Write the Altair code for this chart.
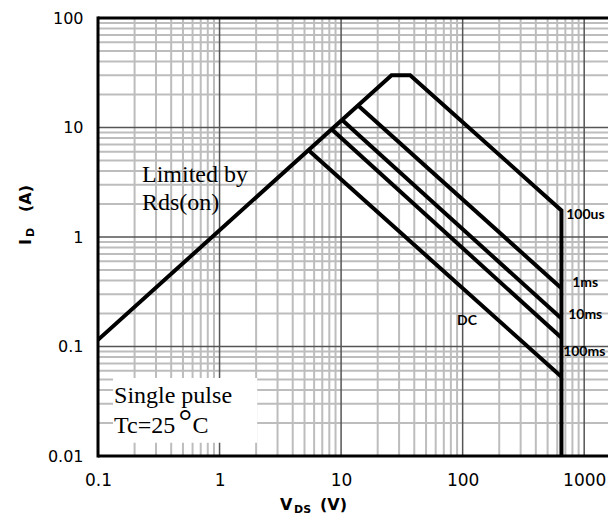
import altair as alt
import pandas as pd

# ---- data ----
env_v = [0.1, 26, 37, 650, 650]
env_i = [0.115, 30, 30, 1.75, 0.01]

ms1_v = [13.8, 650]
ms1_i = [15.9, 0.34]
ms10_v = [10.2, 650]
ms10_i = [11.7, 0.18]
ms100_v = [8.4, 650]
ms100_i = [9.6, 0.12]
dc_v = [5.4, 650]
dc_i = [6.2, 0.053]

curve_labels = ["100us", "1ms", "10ms", "100ms", "DC"]
curve_label_v = [711, 796, 738, 671, 90]
curve_label_i = [1.59, 0.38, 0.194, 0.089, 0.171]

x_ticks = [0.1, 1, 10, 100, 1000]
y_ticks = [0.01, 0.1, 1, 10, 100]
x_major = [1, 10, 100, 1000]
y_major = [0.1, 1, 10]
x_minor = [m * d for d in [0.1, 1, 10, 100, 1000] for m in range(2, 10) if m * d <= 1570]
y_minor = [m * d for d in [0.01, 0.1, 1, 10] for m in range(2, 10)]

W, H = 510, 438
xs = alt.Scale(type="log", domain=[0.1, 1570])
ys = alt.Scale(type="log", domain=[0.01, 100])
xax = alt.Axis(values=x_ticks, format="~g", grid=False, ticks=False, domain=False,
               labelFont="DejaVu Sans", labelFontSize=17, labelColor="black",
               labelPadding=16, title=None, labelFlush=False)
yax = alt.Axis(values=y_ticks, format="~g", grid=False, ticks=False, domain=False,
               labelFont="DejaVu Sans", labelFontSize=16, labelColor="black",
               labelPadding=15, title=None, labelFlush=False)

def X(f):
    return alt.X(f, scale=xs, axis=xax)

def Y(f):
    return alt.Y(f, scale=ys, axis=yax)

rows = []
for name, vv, ii in [("100us", env_v, env_i), ("1ms", ms1_v, ms1_i), ("10ms", ms10_v, ms10_i),
                     ("100ms", ms100_v, ms100_i), ("DC", dc_v, dc_i)]:
    for k, (v, i) in enumerate(zip(vv, ii)):
        rows.append({"series": name, "V": v, "I": i, "k": k})
curves = pd.DataFrame(rows)

base = alt.Chart(pd.DataFrame({"V": [0.1, 1570], "I": [0.01, 100]})).mark_point(opacity=0).encode(
    x=X("V:Q"), y=Y("I:Q"))

gx_minor = alt.Chart(pd.DataFrame({"V": x_minor})).mark_rule(color="#bdbdbd", strokeWidth=2).encode(x=X("V:Q"))
gy_minor = alt.Chart(pd.DataFrame({"I": y_minor})).mark_rule(color="#bdbdbd", strokeWidth=2).encode(y=Y("I:Q"))
gx_major = alt.Chart(pd.DataFrame({"V": x_major})).mark_rule(color="#555555", strokeWidth=1.5).encode(x=X("V:Q"))
gy_major = alt.Chart(pd.DataFrame({"I": y_major})).mark_rule(color="#555555", strokeWidth=1.5).encode(y=Y("I:Q"))

box = alt.Chart(pd.DataFrame({"V": [0.133], "V2": [2.04], "I": [0.0132], "I2": [0.0515]})).mark_rect(
    color="white").encode(x=X("V:Q"), x2="V2:Q", y=Y("I:Q"), y2="I2:Q")

lines = alt.Chart(curves).mark_line(color="black", strokeWidth=4, strokeJoin="miter", clip=True).encode(
    x=X("V:Q"), y=Y("I:Q"), detail="series:N", order="k:Q")

lab = alt.Chart(pd.DataFrame({"t": curve_labels, "V": curve_label_v, "I": curve_label_i})).mark_text(
    align="left", baseline="middle", font="Lato", fontWeight="bold", fontSize=14, color="black").encode(
    x=X("V:Q"), y=Y("I:Q"), text="t:N")

serif = dict(font="Liberation Serif", fontSize=24, color="black", align="left", baseline="alphabetic")
notes = pd.DataFrame({"t": ["Limited by", "Rds(on)", "Single pulse", "Tc=25", "C"],
                      "V": [0.23, 0.23, 0.1355, 0.1355, 0.6],
                      "I": [3.18, 1.77, 0.0305, 0.0162, 0.0162]})
note_txt = alt.Chart(notes).mark_text(**serif).encode(x=X("V:Q"), y=Y("I:Q"), text="t:N")
deg = alt.Chart(pd.DataFrame({"t": ["°"], "V": [0.46], "I": [0.0164]})).mark_text(
    font="Liberation Serif", fontSize=34, color="black", align="left", baseline="alphabetic").encode(
    x=X("V:Q"), y=Y("I:Q"), text="t:N")

def frame(**enc):
    return alt.Chart(pd.DataFrame({"a": [0]})).mark_rule(color="black", strokeWidth=3).encode(**enc)

left = frame(x=alt.value(0), y=alt.value(-1.5), y2=alt.value(H + 1.5))
top = frame(x=alt.value(0), x2=alt.value(W), y=alt.value(0))
bottom = frame(x=alt.value(0), x2=alt.value(W), y=alt.value(H))

bold = dict(font="DejaVu Sans", fontWeight="bold", color="black", align="left", baseline="alphabetic")

def ttl(t, x, y, size, angle=0):
    return alt.Chart(pd.DataFrame({"t": [t]})).mark_text(fontSize=size, angle=angle, **bold).encode(
        x=alt.value(x), y=alt.value(y), text="t:N")

titles = [
    ttl("V", 182, 492, 16), ttl("DS", 196, 495, 11), ttl("(V)", 222, 492, 16),
    ttl("I", -67, 227, 16, 270), ttl("D", -64, 219, 11, 270), ttl("(A)", -67, 194, 16, 270),
]

chart = alt.layer(base, gx_minor, gy_minor, gx_major, gy_major, box, lines, lab, note_txt, deg,
                  left, top, bottom, *titles).properties(
    width=W, height=H, autosize=alt.AutoSizeParams(type="none"),
    padding={"left": 90, "top": 10, "right": 0, "bottom": 60}
).configure_view(strokeWidth=0).configure(background="white")

chart.save("out.html", embed_options={"renderer": "svg", "actions": False})
